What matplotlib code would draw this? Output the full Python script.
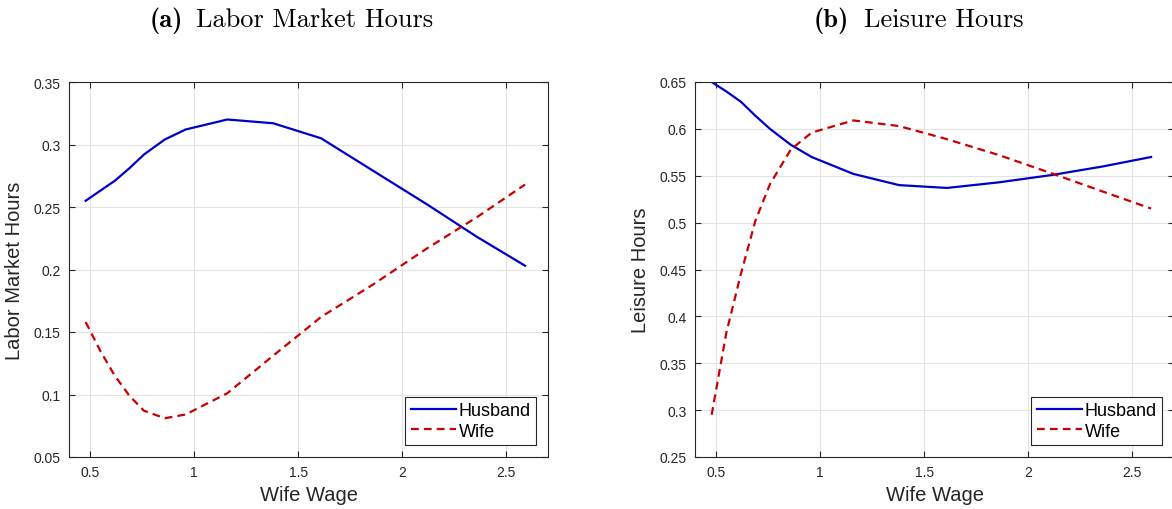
import numpy as np
import matplotlib
matplotlib.use('Agg')
import matplotlib.pyplot as plt
from matplotlib.ticker import FuncFormatter

# wife wage grid
wage = [0.48, 0.55, 0.62, 0.69, 0.76, 0.86, 0.96, 1.16, 1.38, 1.61, 1.86, 2.12, 2.36, 2.59]

# (a) labor market hours
labor_husband = [0.255, 0.263, 0.271, 0.281, 0.292, 0.304, 0.312, 0.320, 0.317, 0.305,
                 0.279, 0.252, 0.226, 0.203]
labor_wife = [0.158, 0.135, 0.115, 0.099, 0.087, 0.081, 0.084, 0.101, 0.131, 0.162,
              0.188, 0.217, 0.242, 0.268]

# (b) leisure hours
leisure_husband = [0.650, 0.640, 0.629, 0.614, 0.600, 0.583, 0.570, 0.552, 0.540, 0.537,
                   0.543, 0.551, 0.560, 0.570]
leisure_wife = [0.295, 0.382, 0.445, 0.502, 0.541, 0.578, 0.596, 0.609, 0.603, 0.589,
                0.572, 0.552, 0.533, 0.515]

x_ticks = [0.5, 1, 1.5, 2, 2.5]
labor_yticks = [0.05, 0.1, 0.15, 0.2, 0.25, 0.3, 0.35]
leisure_yticks = [0.25, 0.3, 0.35, 0.4, 0.45, 0.5, 0.55, 0.6, 0.65]

plt.rcParams['font.family'] = ['Liberation Sans', 'DejaVu Sans']

W, H = 1172, 510
fig = plt.figure(figsize=(W / 100, H / 100), dpi=100)

dark = '#262626'
blue = '#0000c8'
red = '#c80000'


def setup_axes(ax, yticks, ylabel):
    ax.set_xlim(0.4, 2.7)
    ax.set_ylim(yticks[0], yticks[-1])
    ax.set_xticks(x_ticks)
    ax.set_yticks(yticks)
    fmt = FuncFormatter(lambda v, p: f'{v:g}')
    ax.xaxis.set_major_formatter(fmt)
    ax.yaxis.set_major_formatter(fmt)
    ax.tick_params(direction='in', length=4, width=0.8, colors=dark, labelsize=10,
                   top=True, right=True, pad=6)
    ax.grid(True, color='#e3e3e3', lw=0.8)
    ax.set_axisbelow(True)
    for s in ax.spines.values():
        s.set_color(dark)
        s.set_linewidth(0.8)
    ax.set_xlabel('Wife Wage', fontsize=14.5, color=dark, labelpad=4)
    ax.set_ylabel(ylabel, fontsize=14.5, color=dark, labelpad=7)


def plot_panel(ax, husband, wife):
    ax.plot(wage, husband, color=blue, lw=1.6, label='Husband')
    ax.plot(wage, wife, color=red, lw=1.6, linestyle=(0, (3.5, 2.3)), label='Wife')
    leg = ax.legend(loc='lower right', bbox_to_anchor=(1 - 12 / 479, 12 / 375),
                    borderaxespad=0, fontsize=13, handlelength=2.5, handletextpad=0.15,
                    borderpad=0.3, labelspacing=0.2, fancybox=False, framealpha=1)
    leg.get_frame().set_edgecolor(dark)
    leg.get_frame().set_linewidth(0.8)


ax_w, ax_h = 479 / W, 375 / H
ax1 = fig.add_axes([69 / W, (H - 458) / H, ax_w, ax_h])
plot_panel(ax1, labor_husband, labor_wife)
setup_axes(ax1, labor_yticks, 'Labor Market Hours')

ax2 = fig.add_axes([695 / W, (H - 458) / H, ax_w, ax_h])
plot_panel(ax2, leisure_husband, leisure_wife)
setup_axes(ax2, leisure_yticks, 'Leisure Hours')

# subcaptions in Computer Modern
title_y = 1 - 27 / H
fig.text(150 / W, title_y, '(a)', family='cmb10', fontsize=19, ha='left', va='baseline')
fig.text(433 / W, title_y, 'Labor Market Hours', family='cmr10', fontsize=19,
         ha='right', va='baseline')
fig.text(814 / W, title_y, '(b)', family='cmb10', fontsize=19, ha='left', va='baseline')
fig.text(1023 / W, title_y, 'Leisure Hours', family='cmr10', fontsize=19,
         ha='right', va='baseline')

fig.savefig('out.png', dpi=100, facecolor='white')
